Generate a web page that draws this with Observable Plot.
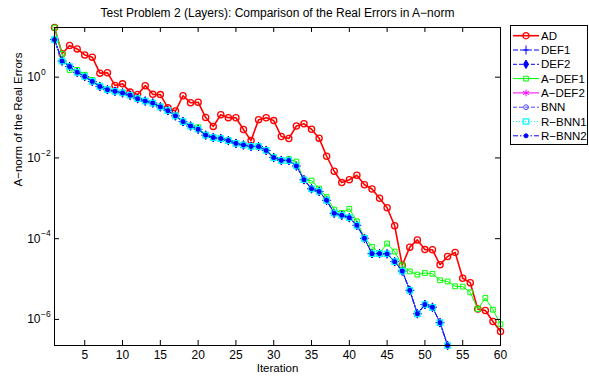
<!DOCTYPE html>
<html>
<head>
<meta charset="utf-8">
<script src="https://cdn.jsdelivr.net/npm/d3@7"></script>
<script src="https://cdn.jsdelivr.net/npm/@observablehq/plot@0.6"></script>
<style>
  html, body { margin: 0; padding: 0; background: #fff; }
  #chart svg { display: block; }
</style>
</head>
<body>
<div id="chart"></div>
<script>
// Iteration numbers on the horizontal axis
const iterations = d3.range(1, 61);

// A-norm of the real error per iteration
const errAD = [
  17.0, 3.80, 6.10, 5.01, 3.55, 3.13, 1.26, 1.29, 0.624, 0.684,
  0.427, 0.372, 0.617, 0.376, 0.370, 0.174, 0.145, 0.347, 0.232, 0.240,
  0.100, 0.0603, 0.117, 0.0995, 0.0989, 0.0507, 0.0269, 0.0881, 0.0989, 0.0841,
  0.0339, 0.0302, 0.0617, 0.0700, 0.0513, 0.0309, 0.0110, 0.00468, 0.00245, 0.00288,
  0.00372, 0.00216, 0.00170, 0.00100, 5.82e-4, 2.09e-4, 2.19e-5, 6.17e-5, 9.33e-5, 5.37e-5,
  5.30e-5, 2.26e-5, 3.63e-5, 4.57e-5, 1.05e-5, 8.13e-6, 1.80e-6, 1.66e-6, 8.91e-7, 5.01e-7
];

const errADEF1 = [
  17.0, 3.80, 1.51, 1.51, 1.15, 0.851, 0.617, 0.501, 0.452, 0.412,
  0.363, 0.299, 0.260, 0.232, 0.186, 0.150, 0.112, 0.0813, 0.0631, 0.0575,
  0.0376, 0.0327, 0.0309, 0.0275, 0.0234, 0.0214, 0.0197, 0.0195, 0.0157, 0.0106,
  0.00891, 0.00933, 0.00813, 0.00288, 0.00275, 0.00174, 0.00107, 5.25e-4, 4.37e-4, 5.50e-4,
  2.69e-4, 1.05e-4, 6.31e-5, 4.37e-5, 7.59e-5, 4.79e-5, 2.19e-5, 1.55e-5, 1.29e-5, 1.41e-5,
  1.35e-5, 9.33e-6, 8.71e-6, 6.61e-6, 6.50e-6, 4.68e-6, 1.80e-6, 3.39e-6, 1.74e-6, 7.59e-7
];

// DEF1, DEF2, A-DEF2, BNN, R-BNN1 and R-BNN2 produce the same errors (53 iterations)
const errDEF = [
  8.51, 2.51, 1.84, 1.32, 1.04, 0.785, 0.589, 0.490, 0.447, 0.407,
  0.357, 0.293, 0.256, 0.229, 0.184, 0.148, 0.110, 0.0794, 0.0617, 0.0513,
  0.0367, 0.0320, 0.0302, 0.0269, 0.0229, 0.0209, 0.0193, 0.0191, 0.0153, 0.0102,
  0.00871, 0.00861, 0.00631, 0.00288, 0.00172, 0.00148, 8.91e-4, 4.27e-4, 3.80e-4, 3.31e-4,
  2.14e-4, 1.02e-4, 4.27e-5, 4.27e-5, 4.20e-5, 2.69e-5, 1.58e-5, 5.25e-6, 1.38e-6, 2.34e-6,
  2.00e-6, 8.32e-7, 2.26e-7
];

const seriesNames = ["AD", "DEF1", "DEF2", "A\u2212DEF1", "A\u2212DEF2", "BNN", "R\u2212BNN1", "R\u2212BNN2"];
const seriesValues = [errAD, errDEF, errDEF, errADEF1, errDEF, errDEF, errDEF, errDEF];

const xTicks = [5, 10, 15, 20, 25, 30, 35, 40, 45, 50, 55, 60];
const yTicks = [1e-6, 1e-4, 1e-2, 1];
const yTickExponents = ["\u22126", "\u22124", "\u22122", "0"];

const titleText = "Test Problem 2 (Layers): Comparison of the Real Errors in A\u2212norm";
const xLabel = "Iteration";
const yLabel = "A\u2212norm of the Real Errors";

// Line and marker styles, one per method
const styles = [
  {color: "#ff0000", width: 1.6, dash: null,        symbol: "circle",   r: 3.1, fill: "none",    mw: 1.3},
  {color: "#0000ff", width: 1,   dash: "5,2,1.5,2", symbol: "plus",     r: 3.0, fill: "none",    mw: 1},
  {color: "#0000ff", width: 1,   dash: "4,2",       symbol: "diamond",  r: 2.6, fill: "#0000ff", mw: 1},
  {color: "#00ff00", width: 1,   dash: null,        symbol: "square",   r: 2.7, fill: "none",    mw: 1},
  {color: "#ff00ff", width: 1,   dash: null,        symbol: "asterisk", r: 3.2, fill: "none",    mw: 1},
  {color: "#4646ff", width: 1,   dash: "4,2",       symbol: "circle",   r: 2.4, fill: "none",    mw: 1},
  {color: "#00ffff", width: 1,   dash: "1,2",       symbol: "square",   r: 3.0, fill: "none",    mw: 1.4},
  {color: "#0000ff", width: 1,   dash: "5,2,1.5,2", symbol: "circle",   r: 2.0, fill: "#0000ff", mw: 1}
];

const W = 589, H = 380;
const M = {left: 54, right: 89, top: 27, bottom: 35};
const innerW = W - M.left - M.right;
const innerH = H - M.top - M.bottom;
const font = "'Liberation Sans', Arial, Helvetica, sans-serif";

const marks = [];
seriesNames.forEach((name, k) => {
  const s = styles[k];
  const rows = seriesValues[k].map((v, i) => ({it: iterations[i], err: v}));
  marks.push(Plot.line(rows, {
    x: "it", y: "err", stroke: s.color, strokeWidth: s.width,
    strokeDasharray: s.dash || undefined
  }));
  marks.push(Plot.dot(rows, {
    x: "it", y: "err", symbol: s.symbol, r: s.r,
    stroke: s.color, strokeWidth: s.mw, fill: s.fill
  }));
});

// Box and inward ticks
marks.push(Plot.frame({stroke: "black", strokeWidth: 1}));
marks.push(Plot.tickX(xTicks, {x: d => d, stroke: "black", insetTop: innerH - 5}));
marks.push(Plot.tickX(xTicks, {x: d => d, stroke: "black", insetBottom: innerH - 5}));
marks.push(Plot.tickY(yTicks, {y: d => d, stroke: "black", insetRight: innerW - 5}));
marks.push(Plot.tickY(yTicks, {y: d => d, stroke: "black", insetLeft: innerW - 5}));

// Tick labels
marks.push(Plot.text(xTicks, {x: d => d, text: d => String(d), frameAnchor: "bottom", lineAnchor: "middle", dy: 10, fontSize: 12, fill: "black"}));
marks.push(Plot.text(yTicks, {y: d => d, text: () => "10", frameAnchor: "left", lineAnchor: "middle", textAnchor: "end", dx: -14, fontSize: 12, fill: "black"}));
marks.push(Plot.text(yTicks, {y: d => d, text: (d, i) => yTickExponents[i], frameAnchor: "left", lineAnchor: "middle", textAnchor: "start", dx: -13.5, dy: -5, fontSize: 8.5, fill: "black"}));

// Title and axis labels
marks.push(Plot.text([titleText], {text: d => d, frameAnchor: "top", lineAnchor: "middle", dy: -14, fontSize: 12, fill: "black"}));
marks.push(Plot.text([xLabel], {text: d => d, frameAnchor: "bottom", lineAnchor: "middle", dy: 23, fontSize: 11.5, fill: "black"}));
marks.push(Plot.text([yLabel], {text: d => d, frameAnchor: "left", lineAnchor: "middle", dx: -36, rotate: -90, fontSize: 11.5, fill: "black"}));

const chart = Plot.plot({
  width: W, height: H,
  marginLeft: M.left, marginRight: M.right, marginTop: M.top, marginBottom: M.bottom,
  style: {fontFamily: font, fontSize: "11px", background: "#fff", color: "black", overflow: "visible"},
  x: {domain: [1, 60], axis: null},
  y: {type: "log", domain: [2.26e-7, 17.0], axis: null},
  marks
});
document.getElementById("chart").appendChild(chart);

// Legend box at the right of the axes
const svg = d3.select(chart);
const lg = svg.append("g").attr("font-family", font).attr("font-size", 11.5).attr("text-anchor", "start");
const box = {x: 510.5, y: 25.5, w: 77, h: 119};
lg.append("rect").attr("x", box.x).attr("y", box.y).attr("width", box.w).attr("height", box.h)
  .attr("fill", "#fff").attr("stroke", "black").attr("stroke-width", 1);
const symbolTypes = {
  circle: d3.symbolCircle, plus: d3.symbolPlus, diamond: d3.symbolDiamond,
  square: d3.symbolSquare, asterisk: d3.symbolAsterisk
};
seriesNames.forEach((name, k) => {
  const s = styles[k];
  const y = 35.7 + k * 14.3;
  lg.append("line").attr("x1", 513).attr("x2", 539).attr("y1", y).attr("y2", y)
    .attr("stroke", s.color).attr("stroke-width", s.width)
    .attr("stroke-dasharray", s.dash || null);
  lg.append("path").attr("transform", `translate(526,${y})`)
    .attr("d", d3.symbol(symbolTypes[s.symbol], s.r * s.r * Math.PI)())
    .attr("stroke", s.color).attr("stroke-width", s.mw).attr("fill", s.fill);
  lg.append("text").attr("x", 541).attr("y", y).attr("dy", "0.36em").attr("fill", "black").text(name);
});
</script>
</body>
</html>
